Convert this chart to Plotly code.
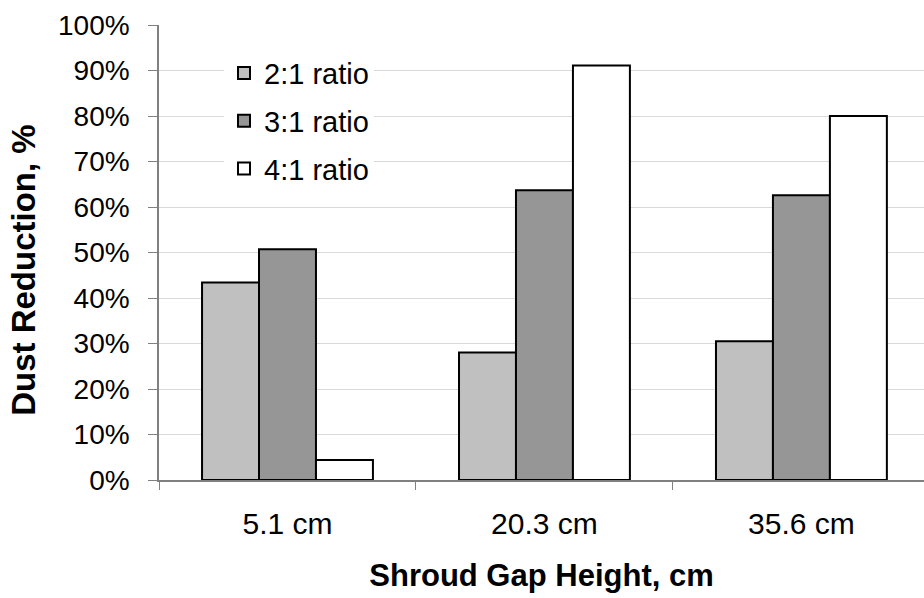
import plotly.graph_objects as go

categories = ["5.1 cm", "20.3 cm", "35.6 cm"]
series_names = ["2:1 ratio", "3:1 ratio", "4:1 ratio"]
ratio_2_1 = [0.434, 0.280, 0.305]
ratio_3_1 = [0.507, 0.637, 0.626]
ratio_4_1 = [0.044, 0.911, 0.800]
colors = ["#c0c0c0", "#969696", "#ffffff"]

fig = go.Figure()
for name, vals, col in zip(series_names, [ratio_2_1, ratio_3_1, ratio_4_1], colors):
    fig.add_trace(go.Bar(
        x=categories, y=vals, name=name, legendgroup=name,
        marker=dict(color=col, line=dict(color="#000000", width=2)),
    ))

font_family = "Liberation Sans, Arial, sans-serif"
fig.update_layout(
    width=924, height=598,
    margin=dict(l=159, r=0, t=25, b=118),
    paper_bgcolor="white", plot_bgcolor="white",
    barmode="group", bargap=0.335, bargroupgap=0,
    font=dict(family=font_family, color="#000000", size=28),
    legend=dict(
        x=0.085, y=0.95, xanchor="left", yanchor="top",
        bgcolor="rgba(255,255,255,1)", borderwidth=0,
        font=dict(size=29), tracegroupgap=7, traceorder="grouped",
    ),
    xaxis=dict(
        type="category", range=[-0.5, 2.477],
        showline=True, linecolor="#808080", linewidth=1.5,
        ticks="outside", tickson="boundaries", ticklen=8, tickcolor="#808080",
        tickfont=dict(size=30), ticklabelstandoff=16,
        title=dict(text="<b>Shroud Gap Height, cm</b>", font=dict(size=31), standoff=26),
        showgrid=False,
    ),
    yaxis=dict(
        range=[0, 1], dtick=0.1, tickformat=".0%",
        showline=True, linecolor="#808080", linewidth=1.5,
        ticks="outside", ticklen=9, tickcolor="#808080",
        tickfont=dict(size=28), ticklabelstandoff=13,
        showgrid=True, gridcolor="#d9d9d9", gridwidth=1,
        zeroline=False,
    ),
    annotations=[dict(
        text="<b>Dust Reduction, %</b>", textangle=-90,
        xref="paper", yref="paper", x=-0.178, y=0.4615,
        xanchor="center", yanchor="middle", showarrow=False,
        font=dict(size=33, family=font_family, color="#000000"),
    )],
)

fig.write_html("out.html")
